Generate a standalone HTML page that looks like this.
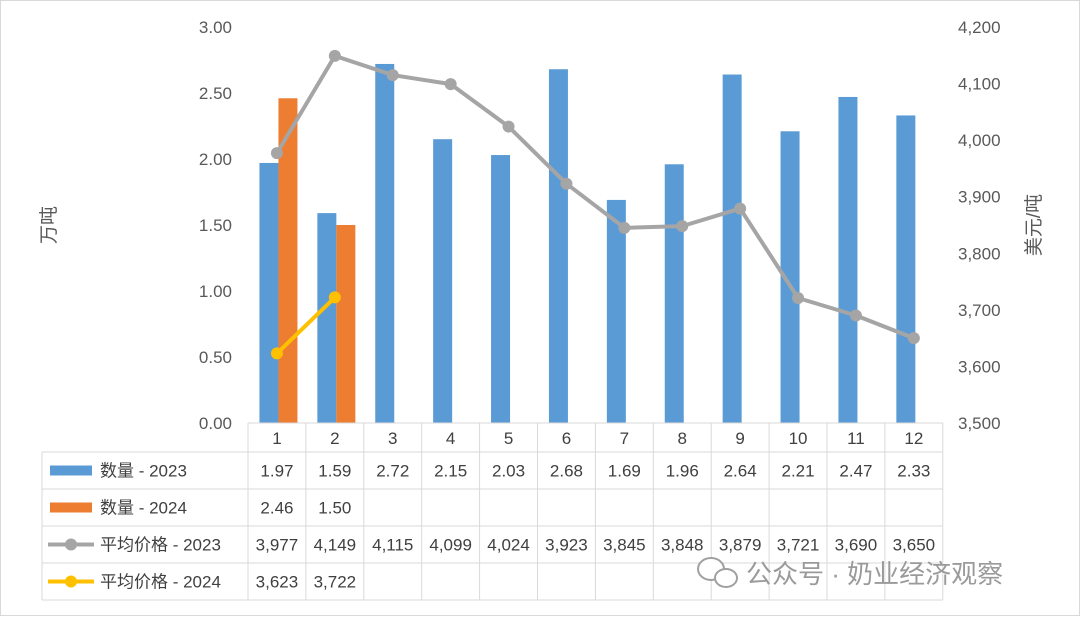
<!DOCTYPE html>
<html><head><meta charset="utf-8"><style>
body{margin:0;background:#fff;font-family:"Liberation Sans","Noto Sans CJK SC",sans-serif}
svg text{font-family:"Liberation Sans","Noto Sans CJK SC",sans-serif}
</style></head><body>
<svg id="c" width="1080" height="616" viewBox="0 0 1080 616">
<rect x="0.5" y="0.5" width="1079" height="615" fill="#fff" stroke="#d9d9d9"/>
<g id="g"></g>
</svg>
<script>
const months=["1","2","3","4","5","6","7","8","9","10","11","12"];
const qty2023=[1.97,1.59,2.72,2.15,2.03,2.68,1.69,1.96,2.64,2.21,2.47,2.33];
const qty2024=[2.46,1.50];
const price2023=[3977,4149,4115,4099,4024,3923,3845,3848,3879,3721,3690,3650];
const price2024=[3623,3722];
const leftTicks=[0,0.5,1,1.5,2,2.5,3];
const rightTicks=[3500,3600,3700,3800,3900,4000,4100,4200];
const NS="http://www.w3.org/2000/svg";
const g=document.getElementById('g');
function el(t,a,txt){const e=document.createElementNS(NS,t);for(const k in a)e.setAttribute(k,a[k]);if(txt!=null)e.textContent=txt;g.appendChild(e);return e;}
const X0=248,CW=57.9,Y0=423,Y1=27;
const yL=v=>Y0-(v-0)/(3-0)*(Y0-Y1);
const yR=v=>Y0-(v-3500)/(4200-3500)*(Y0-Y1);
const xc=i=>X0+CW*(i+0.5);
leftTicks.forEach(v=>{const t=el('text',{x:232,y:yL(v)+6,'text-anchor':'end','font-size':17,fill:'#595959'},v.toFixed(2));

});
rightTicks.forEach(v=>{const t=el('text',{x:958,y:yR(v)+6,'font-size':17,fill:'#595959'},v.toLocaleString('en-US'));

});
let t=el('text',{x:55,y:225,'font-size':19,fill:'#595959',transform:'rotate(-90 55 225)','text-anchor':'middle'},'万吨');

t=el('text',{x:1040,y:225,'font-size':19,fill:'#595959',transform:'rotate(-90 1040 225)','text-anchor':'middle'},'美元/吨');

qty2023.forEach((v,i)=>{const r=el('rect',{x:xc(i)-17.5,y:yL(v),width:19,height:Y0-yL(v),fill:'#5B9BD5'});
});
qty2024.forEach((v,i)=>{const r=el('rect',{x:xc(i)+1.5,y:yL(v),width:19,height:Y0-yL(v),fill:'#ED7D31'});
});
function line(arr,col,name){const p=el('polyline',{points:arr.map((v,i)=>xc(i)+','+yR(v)).join(' '),fill:'none',stroke:col,'stroke-width':4,'stroke-linejoin':'round'});

arr.forEach((v,i)=>{const c=el('circle',{cx:xc(i),cy:yR(v),r:6,fill:col});
});}
line(price2023,'#A5A5A5','price-2023');
line(price2024,'#FFC000','price-2024');
const TL=42,TR=X0+CW*12,rows=[423,452,489,526,563,600];
const grid='#d9d9d9';
el('line',{x1:X0,y1:423,x2:TR,y2:423,stroke:grid});
for(let r=1;r<rows.length;r++)el('line',{x1:TL,y1:rows[r],x2:TR,y2:rows[r],stroke:grid});
el('line',{x1:TL,y1:452,x2:TL,y2:600,stroke:grid});
for(let i=0;i<=12;i++)el('line',{x1:X0+CW*i,y1:423,x2:X0+CW*i,y2:600,stroke:grid});
months.forEach((m,i)=>{const t=el('text',{x:xc(i),y:444,'text-anchor':'middle','font-size':17,fill:'#404040'},m);
});
function row(ri,arr,fmt){arr.forEach((v,i)=>{const t=el('text',{x:xc(i),y:(rows[ri]+rows[ri+1])/2+6,'text-anchor':'middle','font-size':17,fill:'#404040'},fmt(v));
});}
row(1,qty2023,v=>v.toFixed(2));row(2,qty2024,v=>v.toFixed(2));
row(3,price2023,v=>v.toLocaleString('en-US'));row(4,price2024,v=>v.toLocaleString('en-US'));
const legs=[['数量 - 2023','#5B9BD5','bar'],['数量 - 2024','#ED7D31','bar'],['平均价格 - 2023','#A5A5A5','line'],['平均价格 - 2024','#FFC000','line']];
legs.forEach((l,k)=>{const cy=(rows[k+1]+rows[k+2])/2;
if(l[2]=='bar'){el('rect',{x:50,y:cy-5,width:42,height:10,fill:l[1]});}
else{el('line',{x1:48,y1:cy,x2:94,y2:cy,stroke:l[1],'stroke-width':4});el('circle',{cx:71,cy:cy,r:6,fill:l[1]});}
const t=el('text',{x:100,y:cy+6,'font-size':17,fill:'#404040'},l[0]);
});
el('ellipse',{cx:711,cy:569,rx:13,ry:11,fill:'#fff',stroke:'#a0a0a0','stroke-width':2});
el('ellipse',{cx:726,cy:578,rx:11,ry:9,fill:'#fff',stroke:'#a0a0a0','stroke-width':2});
t=el('text',{x:746,y:583,'font-size':26,fill:'#9a9a9a'},'公众号 · 奶业经济观察');

</script>
</body></html>
